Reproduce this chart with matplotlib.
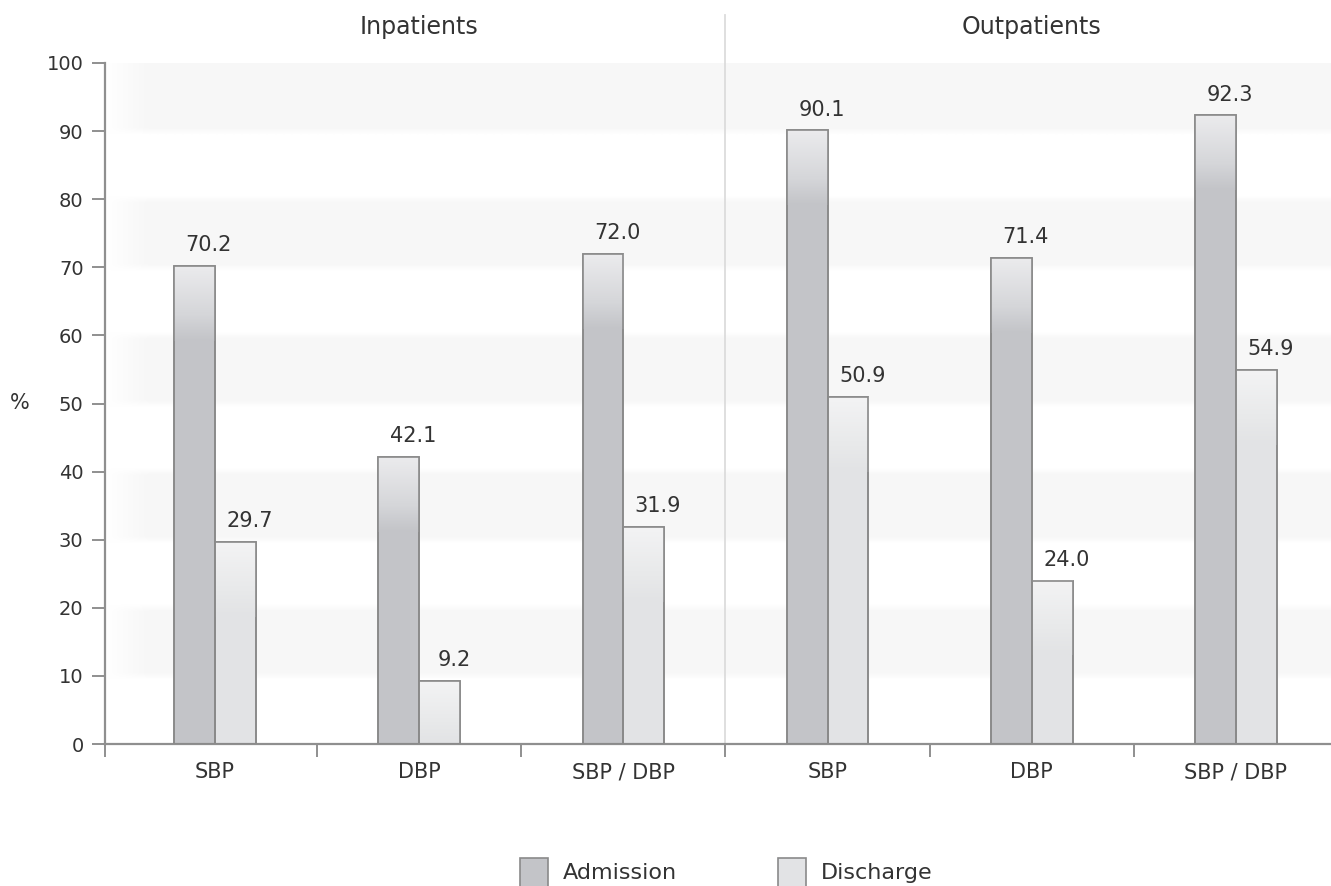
import numpy as np
import matplotlib
matplotlib.use("Agg")
import matplotlib.pyplot as plt
from matplotlib.colors import LinearSegmentedColormap
from matplotlib.patches import Rectangle
import matplotlib.transforms as mtransforms

# Share of patients (%) by measure, inpatients first then outpatients
groups = ["Inpatients", "Outpatients"]
measures = ["SBP", "DBP", "SBP / DBP", "SBP", "DBP", "SBP / DBP"]
admission = [70.2, 42.1, 72.0, 90.1, 71.4, 92.3]
discharge = [29.7, 9.2, 31.9, 50.9, 24.0, 54.9]
series_names = ["Admission", "Discharge"]

W, H = 1331, 886
fig = plt.figure(figsize=(W / 100, H / 100), dpi=100)
ax = fig.add_axes([105 / W, 1 - 744 / H, (W - 105) / W, (744 - 63) / H])

text_col = "#333333"
axis_col = "#8f8f8f"
edge_col = "#8a8a8a"
# base colour, mid tone, top highlight
fills = {"Admission": ("#c3c4c8", "#d5d6d9", "#ebebed"),
         "Discharge": ("#e2e3e5", "#e8e9ea", "#f3f3f4")}

x0, x1 = -0.539, 5.466
x = np.arange(len(measures))
bw = 0.2

# faint horizontal bands, fading in from the left edge
ramp = np.clip(np.linspace(0, 1, 400) / 0.035, 0, 1)
bands = np.zeros((100, 400, 4))
bands[..., :3] = 0.972
for r in range(100):
    if (r // 10) % 2 == 1:
        bands[r, :, 3] = ramp
ax.imshow(bands, extent=[x0, x1, 0, 100], origin="lower", aspect="auto",
          zorder=0, interpolation="bilinear")

# separator between inpatients and outpatients
sep = mtransforms.blended_transform_factory(ax.transData, fig.transFigure)
ax.plot([2.5, 2.5], [1 - 744 / H, 1 - 15 / H], transform=sep, color="#dcdcdc",
        lw=1.3, clip_on=False, zorder=1)

grad_h = 11.0


def draw_bars(xs, vals, name):
    base, mid, light = fills[name]
    cmap = LinearSegmentedColormap.from_list(
        name, [(0, base), (0.35, mid), (1, light)])
    for xi, v in zip(xs, vals):
        ax.bar(xi, v, width=bw, color=base, edgecolor=edge_col, linewidth=1.2, zorder=2)
        g = min(grad_h, v)
        grad = np.linspace(0, 1, 64).reshape(-1, 1)
        ax.imshow(grad, extent=[xi - bw / 2, xi + bw / 2, v - g, v], origin="lower",
                  aspect="auto", cmap=cmap, zorder=2.5, interpolation="bilinear")
        ax.add_patch(Rectangle((xi - bw / 2, 0), bw, v, fill=False, edgecolor=edge_col,
                               linewidth=1.2, zorder=3))
        ax.text(xi + 0.07, v + 1.6, f"{v:.1f}", ha="center", va="bottom",
                fontsize=15, color=text_col, zorder=4)


draw_bars(x - bw / 2, admission, "Admission")
draw_bars(x + bw / 2, discharge, "Discharge")

ax.set_xlim(x0, x1)
ax.set_ylim(0, 100)

for s in ["top", "right"]:
    ax.spines[s].set_visible(False)
for s in ["left", "bottom"]:
    ax.spines[s].set_color(axis_col)
    ax.spines[s].set_linewidth(1.6)

ax.set_yticks(np.arange(0, 101, 10))
ax.tick_params(axis="y", length=9.4, width=1.4, color=axis_col, pad=6,
               labelsize=14, labelcolor=text_col)
ax.set_xticks([x0, 0.5, 1.5, 2.5, 3.5, 4.5])
ax.set_xticklabels([])
ax.tick_params(axis="x", which="major", length=9.4, width=1.4, color=axis_col)
ax.set_xticks(x, minor=True)
ax.set_xticklabels(measures, minor=True)
ax.tick_params(axis="x", which="minor", length=0, pad=13, labelsize=15,
               labelcolor=text_col)

# panel titles
for i, g in enumerate(groups):
    ax.text(3 * i + 1, 1 - 27 / H, g, transform=sep, ha="center", va="center",
            fontsize=17, color=text_col)

fig.text(20 / W, 1 - 403 / H, "%", ha="center", va="center", fontsize=15,
         color=text_col)

# legend along the bottom
for (lx, name) in zip([520, 778], series_names):
    fig.add_artist(Rectangle((lx / W, 1 - 887 / H), 28 / W, 29 / H,
                             transform=fig.transFigure, facecolor=fills[name][0],
                             edgecolor=edge_col, linewidth=1.2))
    fig.text((lx + 43) / W, 1 - 873 / H, name, ha="left", va="center",
             fontsize=16, color=text_col)

fig.savefig("out.png", dpi=100)
